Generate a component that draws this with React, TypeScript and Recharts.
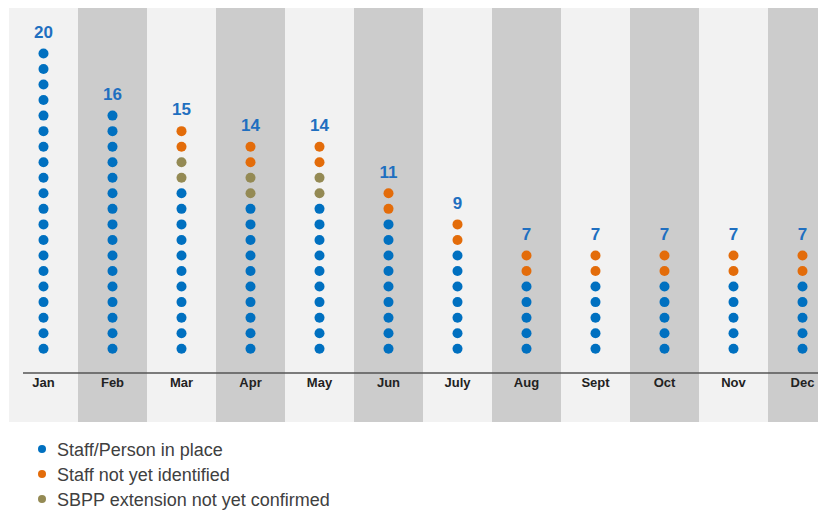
import { Bar, ComposedChart, ReferenceLine, XAxis, YAxis } from "recharts";

const months = ["Jan", "Feb", "Mar", "Apr", "May", "Jun", "July", "Aug", "Sept", "Oct", "Nov", "Dec"];
const inPlace = [20, 16, 11, 10, 10, 9, 7, 5, 5, 5, 5, 5];
const sbppPending = [0, 0, 2, 2, 2, 0, 0, 0, 0, 0, 0, 0];
const notIdentified = [0, 0, 2, 2, 2, 2, 2, 2, 2, 2, 2, 2];

const seriesNames = ["Staff/Person in place", "Staff not yet identified", "SBPP extension not yet confirmed"];

const BLUE = "#0070C0";
const ORANGE = "#E36C0A";
const OLIVE = "#948A54";
const LABEL_BLUE = "#1F6FC0";
const BAND_LIGHT = "#F2F2F2";
const BAND_DARK = "#CCCCCC";
const FONT = "'Liberation Sans', Arial, sans-serif";

const data = months.map((m, i) => ({
  month: m,
  inPlace: inPlace[i],
  sbpp: sbppPending[i],
  notId: notIdentified[i],
  total: inPlace[i] + sbppPending[i] + notIdentified[i],
}));

// stack order bottom -> top
const stackKeys = ["inPlace", "sbpp", "notId"] as const;
const stackColors = [BLUE, OLIVE, ORANGE];

// which stack segment is the topmost non-empty one for each month
const topSeg = data.map((d) => {
  let top = 0;
  stackKeys.forEach((k, s) => {
    if (d[k] > 0) top = s;
  });
  return top;
});

const dotShape = (key: string, color: string) => (props: any) => {
  const { x, y, width, height, payload } = props;
  const n = payload?.[key] ?? 0;
  if (!n || !height) return <g />;
  const step = height / n;
  const cx = x + width / 2;
  return (
    <g>
      {Array.from({ length: n }, (_, i) => (
        <circle key={i} cx={cx} cy={y + height - (i + 0.5) * step} r={5} fill={color} />
      ))}
    </g>
  );
};

const totalLabel = (seg: number) => (props: any) => {
  const { x, y, width, index } = props;
  if (topSeg[index] !== seg) return null;
  return (
    <text
      x={x + width / 2}
      y={y - 8}
      textAnchor="middle"
      fontSize={17}
      fontWeight="bold"
      fontFamily={FONT}
      fill={LABEL_BLUE}
    >
      {data[index].total}
    </text>
  );
};

// alternating full-height column bands
const bandBg = (props: any) => {
  const { x, width, index } = props;
  return <rect x={x} y={0} width={width} height={417} fill={index % 2 ? BAND_DARK : BAND_LIGHT} />;
};

const legendColors = [BLUE, ORANGE, OLIVE];

export default function App() {
  return (
    <div style={{ fontFamily: FONT }}>
      <div style={{ width: 818, height: 420, overflow: "hidden", marginTop: -3 }}>
        <ComposedChart
          width={830}
          height={420}
          data={data}
          margin={{ top: 8, right: 1, bottom: 32, left: 1 }}
          barCategoryGap={0}
          barGap={0}
        >
          <XAxis
            dataKey="month"
            height={20}
            axisLine={false}
            tickLine={false}
            tickSize={3}
            interval={0}
            tick={{ fontSize: 13, fontWeight: "bold", fill: "#222", fontFamily: FONT }}
          />
          <YAxis hide domain={[-1.06, 22.1]} />
          {stackKeys.map((k, s) => (
            <Bar
              key={k}
              dataKey={k}
              stackId="a"
              isAnimationActive={false}
              background={s === 0 ? bandBg : undefined}
              shape={dotShape(k, stackColors[s])}
              label={totalLabel(s)}
            />
          ))}
          <ReferenceLine
            y={-1.06}
            stroke="#555"
            strokeWidth={1.5}
            shape={(p: any) => (
              <line x1={p.x1 + 14} y1={p.y1} x2={p.x2 - 15} y2={p.y2} stroke="#555" strokeWidth={1.5} />
            )}
          />
        </ComposedChart>
      </div>
      <div style={{ marginTop: 13, paddingLeft: 30, color: "#404040", fontSize: 18 }}>
        {seriesNames.map((name, i) => (
          <div key={name} style={{ display: "flex", alignItems: "center", height: 25 }}>
            <span
              style={{
                display: "inline-block",
                width: 8,
                height: 8,
                borderRadius: 4,
                background: legendColors[i],
                marginRight: 11,
                position: "relative",
                top: -2,
              }}
            />
            <span>{name}</span>
          </div>
        ))}
      </div>
    </div>
  );
}
